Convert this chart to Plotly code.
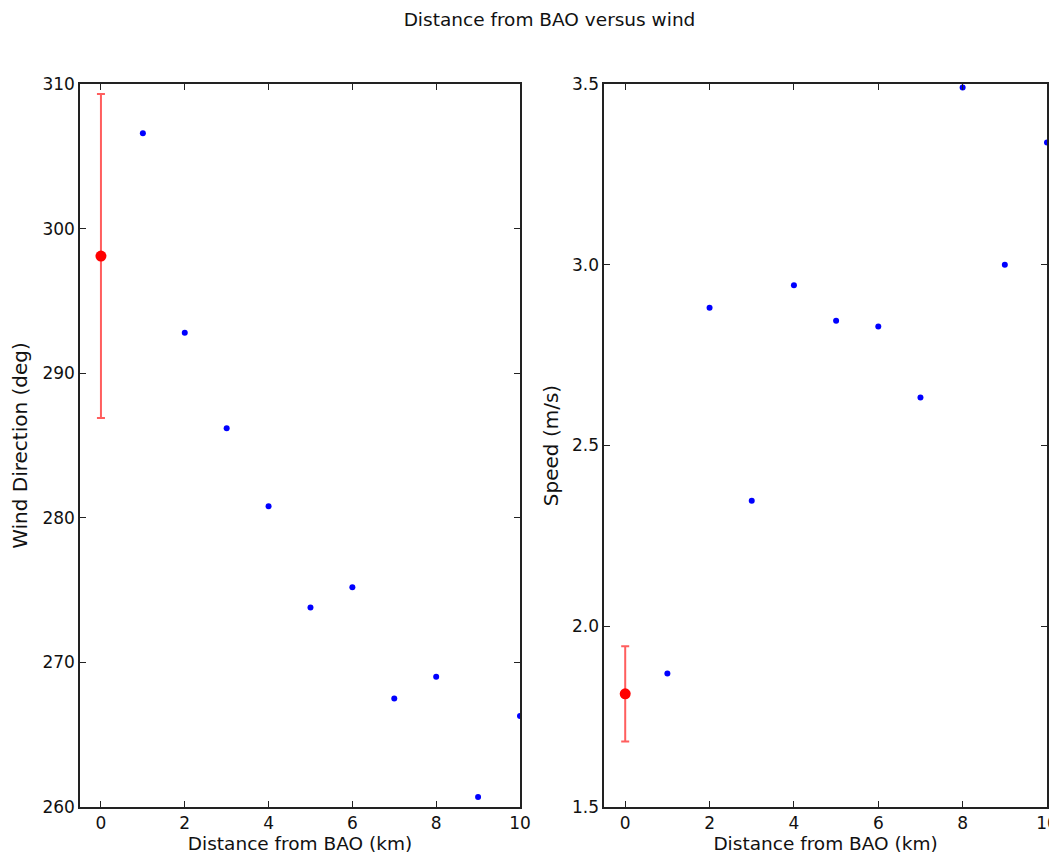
import plotly.graph_objects as go
from plotly.subplots import make_subplots

distance_km = [1, 2, 3, 4, 5, 6, 7, 8, 9, 10]
wind_dir_deg = [306.6, 292.8, 286.2, 280.8, 273.8, 275.2, 267.5, 269.0, 260.7, 266.3]
wind_speed_ms = [1.869, 2.881, 2.347, 2.943, 2.845, 2.829, 2.633, 3.49, 3.0, 3.338]

bao_x = [0]
bao_dir = [298.1]
bao_dir_err = [11.2]
bao_speed = [1.813]
bao_speed_err = [0.132]

x_ticks = [0, 2, 4, 6, 8, 10]
dir_ticks = [260, 270, 280, 290, 300, 310]
speed_ticks = [1.5, 2.0, 2.5, 3.0, 3.5]
speed_tick_text = ["1.5", "2.0", "2.5", "3.0", "3.5"]

FONT = "DejaVu Sans"

fig = make_subplots(rows=1, cols=2, horizontal_spacing=0.087)

blue_marker = dict(color="#0000ff", size=6, symbol="circle")
red_marker = dict(color="#ff0000", size=11, symbol="circle")
err_style = dict(color="rgba(255,40,40,0.75)", thickness=2, width=4)

fig.add_trace(go.Scatter(x=distance_km, y=wind_dir_deg, mode="markers",
                         marker=blue_marker, showlegend=False), row=1, col=1)
fig.add_trace(go.Scatter(x=bao_x, y=bao_dir, mode="markers", marker=red_marker,
                         error_y=dict(type="data", array=bao_dir_err, visible=True, **err_style),
                         showlegend=False), row=1, col=1)
fig.add_trace(go.Scatter(x=distance_km, y=wind_speed_ms, mode="markers",
                         marker=blue_marker, showlegend=False), row=1, col=2)
fig.add_trace(go.Scatter(x=bao_x, y=bao_speed, mode="markers", marker=red_marker,
                         error_y=dict(type="data", array=bao_speed_err, visible=True, **err_style),
                         showlegend=False), row=1, col=2)

axis_common = dict(showline=True, linecolor="#222222", linewidth=1.5, mirror="allticks",
                   ticks="inside", ticklen=6, tickcolor="#222222", showgrid=False,
                   zeroline=False, automargin=False, ticklabeloverflow="allow",
                   tickfont=dict(family=FONT, size=17, color="#111111"))

for c in (1, 2):
    fig.update_xaxes(range=[-0.5, 10], tickvals=x_ticks, ticktext=[str(t) for t in x_ticks],
                     title=dict(text="Distance from BAO (km)", font=dict(family=FONT, size=18.5, color="#111111"),
                                standoff=2),
                     row=1, col=c, **axis_common)

fig.update_yaxes(range=[260, 310], tickvals=dir_ticks, ticktext=[str(t) for t in dir_ticks],
                 title=dict(text="Wind Direction (deg)", font=dict(family=FONT, size=20, color="#111111"),
                            standoff=9),
                 row=1, col=1, **axis_common)
fig.update_yaxes(range=[1.5, 3.5], tickvals=speed_ticks, ticktext=speed_tick_text,
                 title=dict(text="Speed (m/s)", font=dict(family=FONT, size=20, color="#111111"),
                            standoff=8),
                 row=1, col=2, **axis_common)

fig.update_layout(
    width=1049, height=849,
    margin=dict(l=72, r=10, t=76, b=50),
    paper_bgcolor="white", plot_bgcolor="white",
    title=dict(text="Distance from BAO versus wind", x=541.5 / 1049, xanchor="center", y=0.987, yanchor="middle",
               font=dict(family=FONT, size=18.5, color="#111111")),
    font=dict(family=FONT),
)
fig.update_xaxes(domain=[0.0, 0.455], row=1, col=1)
fig.update_xaxes(domain=[0.542, 1.0], row=1, col=2)

fig.write_html("out.html")
